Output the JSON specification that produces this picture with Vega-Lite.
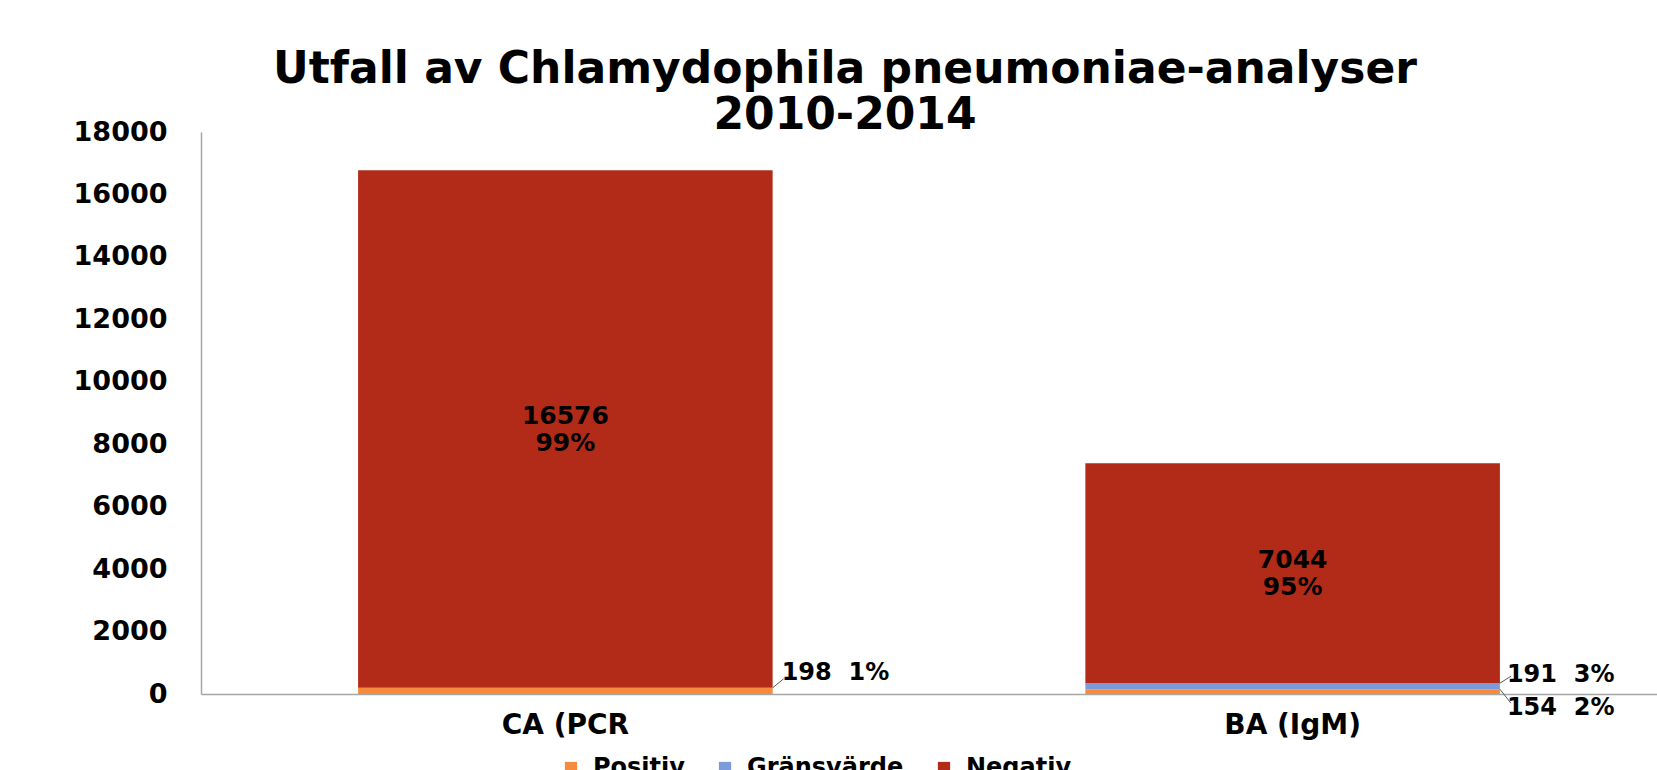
{
  "$schema": "https://vega.github.io/schema/vega-lite/v6.json",
  "width": 1456,
  "height": 562,
  "autosize": "none",
  "padding": {"left": 201, "top": 132, "right": 0, "bottom": 76},
  "background": "white",
  "title": {
    "text": ["Utfall av Chlamydophila pneumoniae-analyser", "2010-2014"],
    "font": "DejaVu Sans",
    "fontSize": 44,
    "fontWeight": "bold",
    "color": "black",
    "anchor": "middle",
    "frame": "group",
    "dx": -84,
    "dy": 20,
    "lineHeight": 46,
    "offset": 0
  },
  "config": {"view": {"stroke": null}},
  "data": {
    "values": [
      {"cat": "CA (PCR", "result": "Positiv", "n": 198, "pct": "1%"},
      {"cat": "CA (PCR", "result": "Negativ", "n": 16576, "pct": "99%"},
      {"cat": "BA (IgM)", "result": "Positiv", "n": 154, "pct": "2%"},
      {"cat": "BA (IgM)", "result": "Gränsvärde", "n": 191, "pct": "3%"},
      {"cat": "BA (IgM)", "result": "Negativ", "n": 7044, "pct": "95%"}
    ]
  },
  "transform": [
    {"calculate": "indexof(['Positiv','Gränsvärde','Negativ'], datum.result)", "as": "ord"},
    {"stack": "n", "groupby": ["cat"], "sort": [{"field": "ord", "order": "ascending"}], "as": ["n0", "n1"]},
    {"calculate": "(datum.n0 + datum.n1) / 2", "as": "mid"},
    {"calculate": "datum.n + '\u00a0\u00a0' + datum.pct", "as": "small"},
    {"calculate": "datum.n + '\\n' + datum.pct", "as": "big"}
  ],
  "encoding": {
    "x": {
      "field": "cat",
      "type": "nominal",
      "sort": ["CA (PCR", "BA (IgM)"],
      "scale": {"paddingInner": 0.43, "paddingOuter": 0.216},
      "axis": {
        "title": null,
        "labelAngle": 0,
        "ticks": false,
        "domainColor": "#a6a6a6",
        "domainWidth": 1.5,
        "labelFont": "DejaVu Sans",
        "labelFontWeight": "bold",
        "labelFontSize": 28,
        "labelColor": "black",
        "labelPadding": 17
      }
    }
  },
  "layer": [
    {
      "mark": {"type": "bar"},
      "encoding": {
        "y": {
          "field": "n0",
          "type": "quantitative",
          "scale": {"domain": [0, 18000], "nice": false},
          "axis": {
            "title": null,
            "values": [0, 2000, 4000, 6000, 8000, 10000, 12000, 14000, 16000, 18000],
            "format": "d",
            "grid": false,
            "ticks": false,
            "domainColor": "#a6a6a6",
            "domainWidth": 1.5,
            "labelFont": "DejaVu Sans",
            "labelFontWeight": "bold",
            "labelFontSize": 27,
            "labelColor": "black",
            "labelPadding": 34
          }
        },
        "y2": {"field": "n1"},
        "color": {
          "field": "result",
          "type": "nominal",
          "sort": ["Positiv", "Gränsvärde", "Negativ"],
          "scale": {"domain": ["Positiv", "Gränsvärde", "Negativ"], "range": ["#F68B3D", "#7C9BDA", "#B22B18"]},
          "legend": {
            "title": null,
            "orient": "none",
            "direction": "horizontal",
            "legendX": 358,
            "legendY": 624,
            "symbolType": "square",
            "symbolSize": 150,
            "symbolStrokeWidth": 0,
            "labelFont": "DejaVu Sans",
            "labelFontWeight": "bold",
            "labelFontSize": 24,
            "labelColor": "black",
            "labelOffset": 10,
            "columnPadding": 28
          }
        }
      }
    },
    {
      "transform": [{"filter": "datum.result == 'Negativ'"}],
      "mark": {"type": "text", "font": "DejaVu Sans", "fontWeight": "bold", "fontSize": 25, "lineBreak": "\n", "lineHeight": 27, "baseline": "middle", "dy": -13, "color": "black"},
      "encoding": {
        "y": {"field": "mid", "type": "quantitative"},
        "text": {"field": "big"}
      }
    },
    {
      "transform": [{"filter": "datum.result == 'Positiv' && datum.cat == 'CA (PCR'"}],
      "mark": {"type": "text", "font": "DejaVu Sans", "fontWeight": "bold", "fontSize": 24, "align": "left", "baseline": "middle", "dx": 9, "dy": -15, "color": "black"},
      "encoding": {
        "x": {"field": "cat", "type": "nominal", "bandPosition": 1},
        "y": {"field": "n1", "type": "quantitative"},
        "text": {"field": "small"}
      }
    },
    {
      "transform": [{"filter": "datum.result == 'Gränsvärde'"}],
      "mark": {"type": "text", "font": "DejaVu Sans", "fontWeight": "bold", "fontSize": 24, "align": "left", "baseline": "middle", "dx": 7, "dy": -8, "color": "black"},
      "encoding": {
        "x": {"field": "cat", "type": "nominal", "bandPosition": 1},
        "y": {"field": "n1", "type": "quantitative"},
        "text": {"field": "small"}
      }
    },
    {
      "transform": [{"filter": "datum.result == 'Positiv' && datum.cat == 'BA (IgM)'"}],
      "mark": {"type": "text", "font": "DejaVu Sans", "fontWeight": "bold", "fontSize": 24, "align": "left", "baseline": "middle", "dx": 7, "dy": 19, "color": "black"},
      "encoding": {
        "x": {"field": "cat", "type": "nominal", "bandPosition": 1},
        "y": {"field": "n1", "type": "quantitative"},
        "text": {"field": "small"}
      }
    },
    {
      "transform": [{"filter": "datum.result == 'Positiv' && datum.cat == 'CA (PCR'"}],
      "mark": {"type": "rule", "color": "#595959", "strokeWidth": 1, "x2Offset": 11, "y2Offset": -9},
      "encoding": {
        "x": {"field": "cat", "type": "nominal", "bandPosition": 1},
        "x2": {"field": "cat", "bandPosition": 1},
        "y": {"field": "n1", "type": "quantitative"},
        "y2": {"field": "n1"}
      }
    },
    {
      "transform": [{"filter": "datum.result == 'Gränsvärde'"}],
      "mark": {"type": "rule", "color": "#595959", "strokeWidth": 1, "x2Offset": 11, "y2Offset": -7},
      "encoding": {
        "x": {"field": "cat", "type": "nominal", "bandPosition": 1},
        "x2": {"field": "cat", "bandPosition": 1},
        "y": {"field": "n1", "type": "quantitative"},
        "y2": {"field": "n1"}
      }
    },
    {
      "transform": [{"filter": "datum.result == 'Positiv' && datum.cat == 'BA (IgM)'"}],
      "mark": {"type": "rule", "color": "#595959", "strokeWidth": 1, "x2Offset": 11, "y2Offset": 14},
      "encoding": {
        "x": {"field": "cat", "type": "nominal", "bandPosition": 1},
        "x2": {"field": "cat", "bandPosition": 1},
        "y": {"field": "n1", "type": "quantitative"},
        "y2": {"field": "n1"}
      }
    }
  ]
}
